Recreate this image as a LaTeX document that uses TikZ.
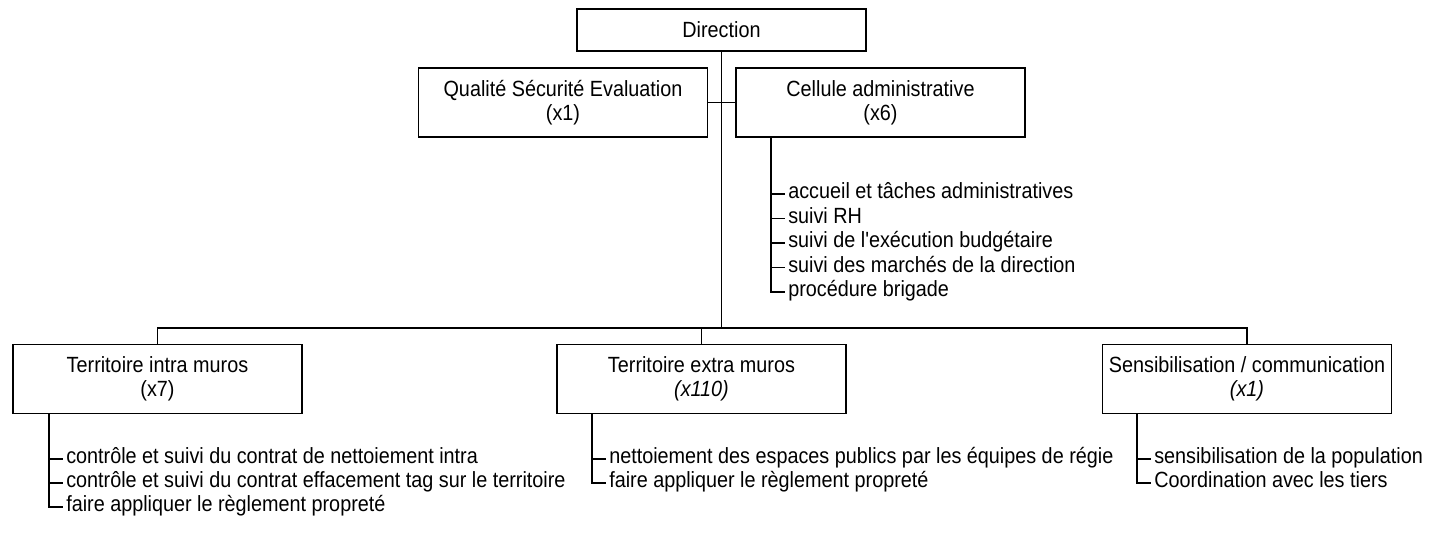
\documentclass[tikz,border=0pt]{standalone}
\usepackage{fontspec}
\setmainfont{Liberation Sans}[FakeStretch=0.9, Ligatures=TeXOff]
\begin{document}
\begin{tikzpicture}[x=0.75pt,y=-0.75pt,
  every node/.style={font=\fontsize{16.5pt}{18pt}\selectfont, text=black},
  box/.style={draw, line width=1.25pt, minimum width=216.75pt, minimum height=51.75pt, align=center, inner sep=0pt},
  topbox/.style={box, minimum height=31.5pt},
  item/.style={anchor=west, inner xsep=2.25pt, inner ysep=0pt, text height=0.905em, text depth=0.212em},
  ln/.style={line width=1.25pt}]
\useasboundingbox (0,0) rectangle (1430,533);

% boxes
\node[topbox] (dir) at (721.5,30) {Direction};
\node[box] (qse) at (563,102.5) {Qualité Sécurité Evaluation\\(x1)};
\node[box] (cel) at (880.5,102.5) {Cellule administrative\\(x6)};
\node[box] (intra) at (157.5,379) {Territoire intra muros\\(x7)};
\node[box] (extra) at (701.5,379) {Territoire extra muros\\\textit{(x110)}};
\node[box] (sens) at (1247,379) {Sensibilisation / communication\\\textit{(x1)}};

% main connectors
\coordinate (busM) at (721.5,328);
\draw[ln] (dir.south) -- (busM);
\draw[ln] (qse.east) -- (cel.west);
\draw[ln] (intra.north) -- (intra.north |- busM) -- (sens.north |- busM) -- (sens.north);
\draw[ln] (extra.north) -- (extra.north |- busM);

% Cellule list
\coordinate (cv) at (771,137);
\node[item] (c1) at (785,194) {accueil et tâches administratives};
\node[item] (c2) at (785,218.5) {suivi RH};
\node[item] (c3) at (785,243) {suivi de l'exécution budgétaire};
\node[item] (c4) at (785,267.5) {suivi des marchés de la direction};
\node[item] (c5) at (785,292) {procédure brigade};
\draw[ln] (cv) |- (c5.west);
\foreach \i in {c1,c2,c3,c4} \draw[ln] (cv |- \i.west) -- (\i.west);

% intra list
\coordinate (iv) at (49,414);
\node[item] (i1) at (63,459) {contrôle et suivi du contrat de nettoiement intra};
\node[item] (i2) at (63,483) {contrôle et suivi du contrat effacement tag sur le territoire};
\node[item] (i3) at (63,507) {faire appliquer le règlement propreté};
\draw[ln] (iv) |- (i3.west);
\foreach \i in {i1,i2} \draw[ln] (iv |- \i.west) -- (\i.west);

% extra list
\coordinate (ev) at (592,414);
\node[item] (e1) at (606,459) {nettoiement des espaces publics par les équipes de régie};
\node[item] (e2) at (606,483) {faire appliquer le règlement propreté};
\draw[ln] (ev) |- (e2.west);
\draw[ln] (ev |- e1.west) -- (e1.west);

% sens list
\coordinate (sv) at (1137,414);
\node[item] (s1) at (1151,459) {sensibilisation de la population};
\node[item] (s2) at (1151,483) {Coordination avec les tiers};
\draw[ln] (sv) |- (s2.west);
\draw[ln] (sv |- s1.west) -- (s1.west);
\end{tikzpicture}
\end{document}
